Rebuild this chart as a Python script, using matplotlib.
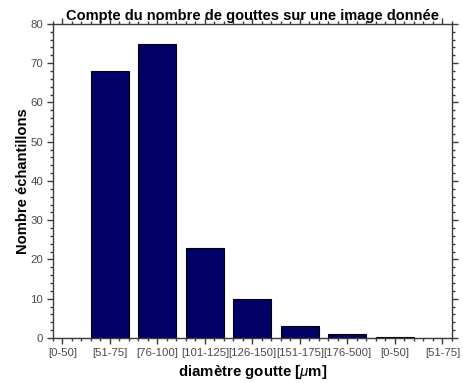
import matplotlib
matplotlib.use("Agg")
import matplotlib.pyplot as plt
from matplotlib.ticker import MultipleLocator

plt.rcParams['font.family'] = ['Liberation Sans', 'DejaVu Sans']
plt.rcParams['mathtext.fontset'] = 'custom'
plt.rcParams['mathtext.it'] = 'Liberation Sans:italic'
plt.rcParams['mathtext.rm'] = 'Liberation Sans:bold'

classes = ['[0-50]', '[51-75]', '[76-100]', '[101-125]', '[126-150]',
           '[151-175]', '[176-500]', '[0-50]', '[51-75]']
nombre = [0, 68, 75, 23, 10, 3, 1, 0.2, 0]

gris = '#3c3c3c'

fig = plt.figure(figsize=(4.64, 3.83), dpi=100)
ax = fig.add_axes([0.114, 0.1175, 0.86, 0.82])

positions = range(1, len(classes) + 1)
ax.bar(positions, nombre, width=0.8, color='#000066', edgecolor='black',
       linewidth=0.8)

ax.set_xlim(0.8, 9.2)
ax.set_ylim(0, 80)
ax.set_xticks(list(positions))
ax.set_xticklabels(classes)
ax.xaxis.set_minor_locator(MultipleLocator(0.2))
ax.yaxis.set_major_locator(MultipleLocator(10))
ax.yaxis.set_minor_locator(MultipleLocator(2))

ax.tick_params(which='both', direction='out', top=True, right=True,
               colors=gris, labelsize=8.2, width=1.0)
ax.tick_params(which='major', length=4, pad=3)
ax.tick_params(which='minor', length=2.5)
for lab in ax.get_xticklabels() + ax.get_yticklabels():
    lab.set_color('#4a4a4a')
for sp in ax.spines.values():
    sp.set_color(gris)
    sp.set_linewidth(1.0)

ax.set_title('Compte du nombre de gouttes sur une image donnée',
             fontsize=10.5, fontweight='bold', pad=3)
ax.set_ylabel('Nombre échantillons', fontsize=10.6, fontweight='bold',
              labelpad=0)
ax.set_xlabel(r'diamètre goutte [$\mathit{\mu}$m]', fontsize=10.8,
              fontweight='bold', labelpad=4)

fig.savefig('out.png', dpi=100, facecolor='white')
